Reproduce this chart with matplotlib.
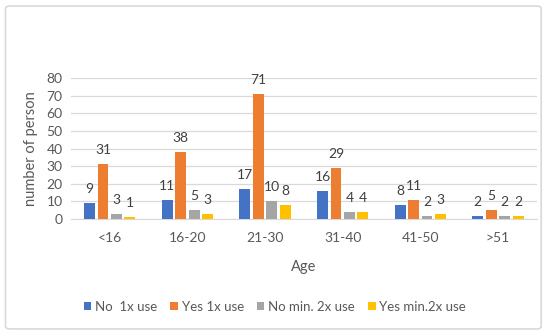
import matplotlib.pyplot as plt
import numpy as np
from matplotlib.patches import FancyBboxPatch

ages = ['<16', '16-20', '21-30', '31-40', '41-50', '>51']
no_1x = [9, 11, 17, 16, 8, 2]
yes_1x = [31, 38, 71, 29, 11, 5]
no_2x = [3, 5, 10, 4, 2, 2]
yes_2x = [1, 3, 8, 4, 3, 2]
series = [no_1x, yes_1x, no_2x, yes_2x]
names = ['No  1x use', 'Yes 1x use', 'No min. 2x use', 'Yes min.2x use']
colors = ['#4472C4', '#ED7D31', '#A5A5A5', '#FFC000']

plt.rcParams['font.family'] = ['Lato', 'DejaVu Sans']
txt = '#595959'

fig = plt.figure(figsize=(5.5, 3.36), dpi=100)
fig.patches.append(FancyBboxPatch((0.01, 0.021), 0.974, 0.961, boxstyle='round,pad=0,rounding_size=0.008',
                                  transform=fig.transFigure, fill=False, ec='#D9D9D9', lw=1.2))
ax = fig.add_axes([0.129, 0.348, 0.847, 0.42])

x = np.arange(len(ages))
w = 0.14
step = 0.173
for i, (vals, name, c) in enumerate(zip(series, names, colors)):
    pos = x + (i - 1.5) * step
    bars = ax.bar(pos, vals, w, color=c, label=name, zorder=3)
    for b, v in zip(bars, vals):
        ax.text(b.get_x() + b.get_width() / 2, v + 4.5, str(v), ha='center', va='bottom',
                fontsize=10, color='#404040')

ax.set_ylim(0, 80)
ax.set_xlim(-0.5, len(ages) - 0.5)
ax.set_yticks(range(0, 81, 10))
ax.set_xticks(x)
ax.set_xticklabels(ages)
ax.yaxis.grid(True, color='#D9D9D9', lw=0.9, zorder=0)
for s in ['top', 'right', 'left']:
    ax.spines[s].set_visible(False)
ax.spines['bottom'].set_color('#D9D9D9')
ax.tick_params(axis='both', length=0, labelsize=10, labelcolor=txt)
ax.tick_params(axis='x', pad=9)
ax.tick_params(axis='y', pad=6)
ax.set_ylabel('number of person', fontsize=10.5, color=txt, labelpad=6)
ax.set_xlabel('Age', fontsize=10.5, color=txt, labelpad=12)

fig.legend(loc='center', bbox_to_anchor=(0.5, 0.087), ncol=4, frameon=False, fontsize=9.5,
           handlelength=0.55, handleheight=0.55, handletextpad=0.3, columnspacing=1.0,
           labelcolor=txt)

fig.savefig('out.png', dpi=100)
